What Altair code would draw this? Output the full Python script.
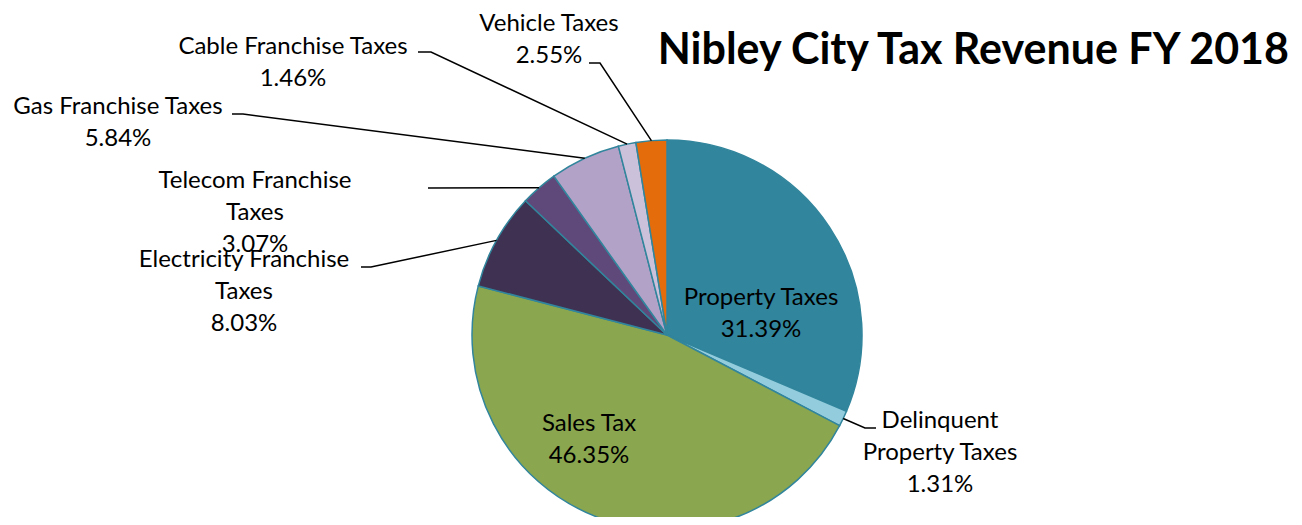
import math
import altair as alt
import pandas as pd

# ---- data ----
categories = [
    "Property Taxes",
    "Delinquent Property Taxes",
    "Sales Tax",
    "Electricity Franchise Taxes",
    "Telecom Franchise Taxes",
    "Gas Franchise Taxes",
    "Cable Franchise Taxes",
    "Vehicle Taxes",
]
shares = [31.39, 1.31, 46.35, 8.03, 3.07, 5.84, 1.46, 2.55]
label_lines = [
    ["Property Taxes"],
    ["Delinquent", "Property Taxes"],
    ["Sales Tax"],
    ["Electricity Franchise", "Taxes"],
    ["Telecom Franchise", "Taxes"],
    ["Gas Franchise Taxes"],
    ["Cable Franchise Taxes"],
    ["Vehicle Taxes"],
]
title_text = "Nibley City Tax Revenue FY 2018"

# ---- styles / layout ----
colors = ["#31859C", "#93CDDD", "#8AA64F", "#3F3151", "#5F497A", "#B3A2C7", "#CCC1DA", "#E46C0A"]
W, H = 1286, 509
OFF = 8  # page margin
CX, CY, R = 667 - OFF, 335 - OFF, 195
FONT = "Lato"
# label anchor: (center x, first baseline y) in page pixels
label_pos = {
    "Property Taxes": (761, 305),
    "Delinquent Property Taxes": (940, 428),
    "Sales Tax": (589, 431),
    "Electricity Franchise Taxes": (244, 267),
    "Telecom Franchise Taxes": (255, 188),
    "Gas Franchise Taxes": (118, 114),
    "Cable Franchise Taxes": (293, 54),
    "Vehicle Taxes": (549, 31),
}
# leader lines: elbow and end points in page pixels
leaders = {
    "Delinquent Property Taxes": [(865, 428), (876, 428)],
    "Electricity Franchise Taxes": [(371, 267), (361, 267)],
    "Telecom Franchise Taxes": [(428, 188), (428, 188)],
    "Gas Franchise Taxes": [(243, 114), (232, 114)],
    "Cable Franchise Taxes": [(431, 52), (418, 52)],
    "Vehicle Taxes": [(600, 63), (589, 63)],
}

pie_df = pd.DataFrame({"category": categories, "share": shares, "order": list(range(len(categories)))})

# labels
lab_rows = []
for cat, s, lines in zip(categories, shares, label_lines):
    x, y = label_pos[cat]
    lab_rows.append({"category": cat, "text": "\n".join(lines + [f"{s:.2f}%"]), "lx": x - OFF, "ly": y - OFF})
lab_df = pd.DataFrame(lab_rows)

# leader lines from slice mid-angle on the rim
total = sum(shares)
cum = 0.0
line_rows = []
for cat, s in zip(categories, shares):
    mid = (cum + s / 2) / total * 2 * math.pi
    cum += s
    if cat in leaders:
        ex = CX + R * math.sin(mid)
        ey = CY - R * math.cos(mid)
        pts = [(ex, ey)] + [(px - OFF, py - OFF) for px, py in leaders[cat]]
        for i, (px, py) in enumerate(pts):
            line_rows.append({"category": cat, "i": i, "px": px, "py": py})
line_df = pd.DataFrame(line_rows)

arc = alt.Chart(pie_df).mark_arc(radius=R, stroke="#31859C", strokeWidth=1.5).encode(
    theta=alt.Theta("share:Q", stack=True),
    color=alt.Color("category:N", scale=alt.Scale(domain=categories, range=colors), legend=None),
    order=alt.Order("order:Q"),
    x=alt.value(CX),
    y=alt.value(CY),
)

lines = alt.Chart(line_df).mark_line(color="#000000", strokeWidth=1.5).encode(
    x=alt.X("px:Q", scale=None, axis=None),
    y=alt.Y("py:Q", scale=None, axis=None),
    detail="category:N",
    order="i:Q",
)

labels = alt.Chart(lab_df).mark_text(
    font=FONT, fontSize=24, align="center", baseline="alphabetic", lineBreak="\n", lineHeight=32, color="#000000"
).encode(
    x=alt.X("lx:Q", scale=None, axis=None),
    y=alt.Y("ly:Q", scale=None, axis=None),
    text="text:N",
)

title = alt.Chart(pd.DataFrame({"t": [title_text]})).mark_text(
    font=FONT, fontSize=43, fontWeight="bold", align="right", baseline="alphabetic", color="#000000"
).encode(
    x=alt.value(1289 - OFF),
    y=alt.value(64 - OFF),
    text="t:N",
)

chart = alt.layer(arc, lines, labels, title).properties(
    width=W, height=H, autosize=alt.AutoSizeParams(type="none"), padding=0
).configure_view(stroke=None)

chart.save("out.html", embed_options={"renderer": "svg", "actions": False})
